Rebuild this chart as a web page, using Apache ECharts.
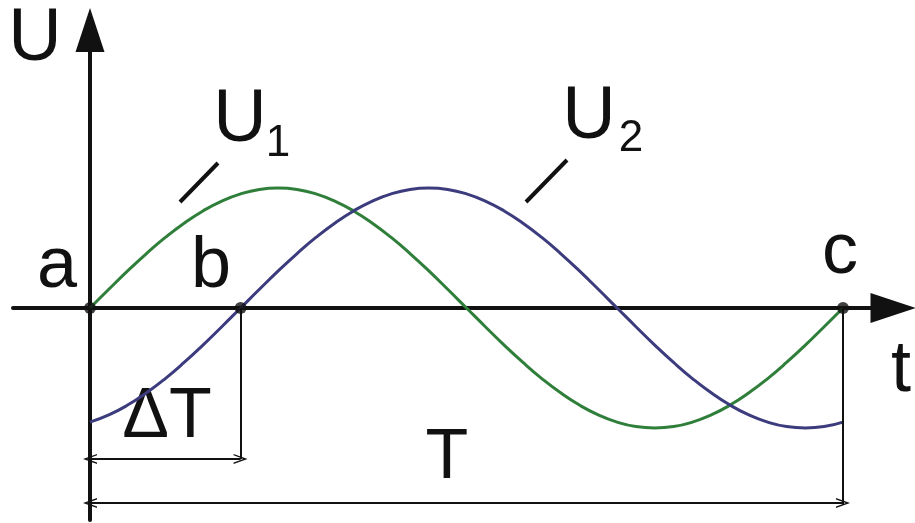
<!DOCTYPE html>
<html>
<head>
<meta charset="utf-8">
<script src="https://cdn.jsdelivr.net/npm/echarts@6/dist/echarts.min.js"></script>
<style>
  html, body { margin: 0; padding: 0; background: #fff; }
  #chart { width: 915px; height: 523px; }
</style>
</head>
<body>
<div id="chart"></div>
<script>
// 时间（周期 T = 1）
const tValues = [0, 0.025, 0.05, 0.075, 0.1, 0.125, 0.15, 0.175, 0.2, 0.225, 0.25,
    0.275, 0.3, 0.325, 0.35, 0.375, 0.4, 0.425, 0.45, 0.475, 0.5,
    0.525, 0.55, 0.575, 0.6, 0.625, 0.65, 0.675, 0.7, 0.725, 0.75,
    0.775, 0.8, 0.825, 0.85, 0.875, 0.9, 0.925, 0.95, 0.975, 1];
// U1 (绿色)
const u1Values = [0, 0.156, 0.309, 0.454, 0.588, 0.707, 0.809, 0.891, 0.951, 0.988, 1,
    0.988, 0.951, 0.891, 0.809, 0.707, 0.588, 0.454, 0.309, 0.156, 0,
    -0.156, -0.309, -0.454, -0.588, -0.707, -0.809, -0.891, -0.951, -0.988, -1,
    -0.988, -0.951, -0.891, -0.809, -0.707, -0.588, -0.454, -0.309, -0.156, 0];
// U2 (蓝色)，延迟 ΔT
const u2Values = [-0.951, -0.891, -0.809, -0.707, -0.588, -0.454, -0.309, -0.156, 0, 0.156, 0.309,
    0.454, 0.588, 0.707, 0.809, 0.891, 0.951, 0.988, 1, 0.988, 0.951,
    0.891, 0.809, 0.707, 0.588, 0.454, 0.309, 0.156, 0, -0.156, -0.309,
    -0.454, -0.588, -0.707, -0.809, -0.891, -0.951, -0.988, -1, -0.988, -0.951];
// 点 a, b, c
const pointNames = ['a', 'b', 'c'];
const pointT = [0, 0.2, 1];
const deltaT = 0.2;
const period = 1;

const chart = echarts.init(document.getElementById('chart'));
const font = '"Liberation Sans", Arial, sans-serif';
const ink = '#111';
const chevron = 'path://M5,0 L10,10 L8.6,10 L5,3 L1.4,10 L0,10 Z';

const zip = (xs, ys) => xs.map((x, i) => [x, ys[i]]);

const txt = (text, x, y, size, valign) => ({
    type: 'text', x: x, y: y,
    style: { text: text, font: `${size}px ${font}`, fill: ink, align: 'center', verticalAlign: valign || 'middle' }
});

chart.setOption({
    animation: false,
    backgroundColor: '#fff',
    grid: { left: 13, right: 22, top: 30, bottom: 3 },
    xAxis: {
        type: 'value', min: -0.10226, max: 1.0664,
        splitLine: { show: false }, axisTick: { show: false }, axisLabel: { show: false },
        axisLine: { show: true, onZero: true, symbol: ['none', 'triangle'], symbolSize: [30, 45],
            lineStyle: { color: ink, width: 4 } }
    },
    yAxis: {
        type: 'value', min: -1.7667, max: 2.3167,
        splitLine: { show: false }, axisTick: { show: false }, axisLabel: { show: false },
        axisLine: { show: true, onZero: true, symbol: ['none', 'triangle'], symbolSize: [29, 44],
            lineStyle: { color: ink, width: 4 } }
    },
    series: [
        {
            name: 'U1', type: 'line', smooth: true, showSymbol: false,
            data: zip(tValues, u1Values),
            lineStyle: { color: '#2f7f3a', width: 3 }
        },
        {
            name: 'U2', type: 'line', smooth: true, showSymbol: false,
            data: zip(tValues, u2Values),
            lineStyle: { color: '#3b3b7e', width: 3 }
        },
        {
            // 尺寸线
            type: 'line', data: [], silent: true,
            markLine: {
                silent: true, animation: false,
                label: { show: false },
                lineStyle: { color: ink, type: 'solid', width: 2 },
                symbol: ['none', 'none'],
                data: [
                    [{ coord: [deltaT, 0] }, { coord: [deltaT, -1.258] }],
                    [{ coord: [period, 0] }, { coord: [period, -1.642] }],
                    [{ coord: [0, -1.258], symbol: chevron, symbolSize: [10, 14] },
                     { coord: [deltaT, -1.258], symbol: chevron, symbolSize: [10, 14] }],
                    [{ coord: [0, -1.625], symbol: chevron, symbolSize: [10, 14] },
                     { coord: [period, -1.625], symbol: chevron, symbolSize: [10, 14] }]
                ]
            }
        },
        {
            name: 'points', type: 'scatter', symbolSize: 12,
            data: pointT.map((t, i) => ({ name: pointNames[i], value: [t, 0] })),
            itemStyle: { color: ink }, z: 5
        }
    ],
    graphic: [
        txt('U', 35, 40, 74),
        txt('U', 240, 121, 74),
        txt('1', 278, 144, 44),
        txt('U', 589, 118, 74),
        txt('2', 631, 139, 44),
        txt('a', 57, 267, 72),
        txt('b', 211, 267, 72),
        txt('c', 840, 253, 72),
        txt('t', 901, 371, 72),
        txt('ΔT', 167, 418, 70),
        txt('T', 447, 459, 70),
        { type: 'line', shape: { x1: 218, y1: 163, x2: 180, y2: 202 }, style: { stroke: ink, lineWidth: 4 } },
        { type: 'line', shape: { x1: 567, y1: 160, x2: 526, y2: 202 }, style: { stroke: ink, lineWidth: 4 } }
    ]
});
</script>
</body>
</html>
